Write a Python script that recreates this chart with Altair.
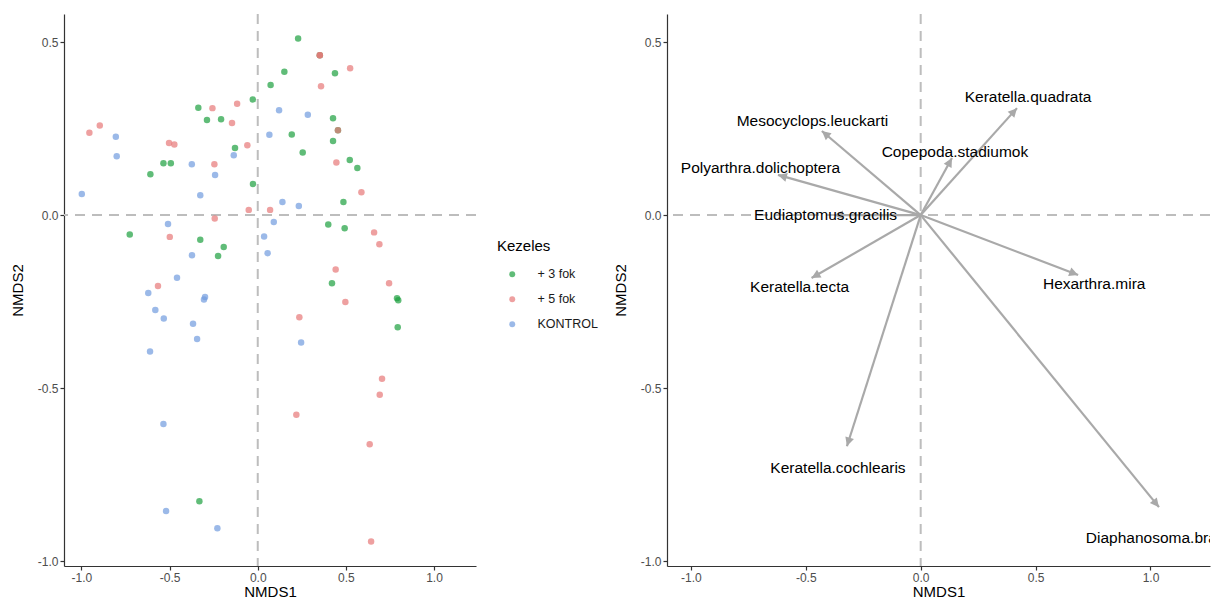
import altair as alt
import pandas as pd

# Treatment groups and their colours
groups = ["+ 3 fok", "+ 5 fok", "KONTROL"]
group_colors = ["#1C9F3E", "#E77777", "#709BDE"]

# Site scores (NMDS1, NMDS2) per treatment
green_x = [-0.337, -0.288, -0.208, -0.028, -0.129, -0.535, -0.493, -0.609, -0.027, 0.073,
           0.229, 0.151, 0.438, 0.427, 0.193, 0.427, 0.255, 0.522, 0.565, 0.486,
           -0.726, -0.326, -0.193, -0.225, 0.400, 0.493, 0.421, 0.790, 0.797, 0.794,
           -0.331, 0.455, 0.352]
green_y = [0.310, 0.275, 0.277, 0.334, 0.194, 0.150, 0.150, 0.118, 0.090, 0.376,
           0.510, 0.414, 0.410, 0.280, 0.233, 0.214, 0.181, 0.159, 0.136, 0.038,
           -0.056, -0.071, -0.092, -0.118, -0.027, -0.038, -0.197, -0.240, -0.246, -0.324,
           -0.827, 0.245, 0.462]

pink_x = [-0.257, -0.117, -0.146, -0.955, -0.896, -0.503, -0.473, -0.246, -0.059, -0.051,
          -0.244, 0.070, 0.352, 0.352, 0.524, 0.359, 0.446, 0.588, -0.499, -0.566,
          0.660, 0.690, 0.442, 0.745, 0.497, 0.236, 0.705, 0.692, 0.219, 0.635,
          0.643, 0.455]
pink_y = [0.309, 0.322, 0.266, 0.238, 0.259, 0.208, 0.204, 0.147, 0.202, 0.015,
          -0.010, 0.015, 0.462, 0.462, 0.424, 0.372, 0.152, 0.066, -0.063, -0.205,
          -0.050, -0.084, -0.157, -0.197, -0.251, -0.295, -0.473, -0.519, -0.577, -0.662,
          -0.943, 0.245]

blue_x = [-0.805, -0.800, -0.374, -0.242, -0.136, -0.998, -0.326, 0.066, 0.121, 0.284,
          0.140, 0.233, 0.091, -0.509, -0.373, -0.458, -0.621, -0.299, -0.305, -0.581,
          -0.533, -0.367, -0.344, -0.611, 0.036, 0.056, 0.246, -0.535, -0.520, -0.229]
blue_y = [0.226, 0.170, 0.147, 0.116, 0.173, 0.061, 0.057, 0.232, 0.303, 0.290,
          0.038, 0.026, -0.020, -0.026, -0.116, -0.181, -0.225, -0.237, -0.244, -0.274,
          -0.299, -0.314, -0.358, -0.394, -0.062, -0.110, -0.368, -0.604, -0.855, -0.905]

# Species vectors (arrow tips) and their label positions
species = ["Keratella.quadrata", "Mesocyclops.leuckarti", "Copepoda.stadiumok",
           "Polyarthra.dolichoptera", "Eudiaptomus.gracilis", "Keratella.tecta",
           "Hexarthra.mira", "Keratella.cochlearis", "Diaphanosoma.brachyurum"]
arrow_x = [0.419, -0.430, 0.136, -0.621, -0.377, -0.475, 0.685, -0.321, 1.037]
arrow_y = [0.309, 0.243, 0.165, 0.116, 0.000, -0.182, -0.173, -0.668, -0.844]
label_x = [0.467, -0.471, 0.149, -0.697, -0.414, -0.527, 0.755, -0.360, 1.133]
label_y = [0.341, 0.272, 0.182, 0.136, 0.000, -0.208, -0.199, -0.731, -0.934]

sites = pd.DataFrame({
    "NMDS1": green_x + pink_x + blue_x,
    "NMDS2": green_y + pink_y + blue_y,
    "Kezeles": [groups[0]] * len(green_x) + [groups[1]] * len(pink_x) + [groups[2]] * len(blue_x),
})
sites["draw_order"] = range(len(sites))

vectors = pd.DataFrame({
    "species": species,
    "NMDS1": arrow_x,
    "NMDS2": arrow_y,
    "lx": label_x,
    "ly": label_y,
})
zero = pd.DataFrame({"zero": [0.0]})

PANEL_H = 552
LEFT_W = 412
RIGHT_W = 543
Y_DOMAIN = [-1.014, 0.581]
LEFT_X_DOMAIN = [-1.099, 1.238]
RIGHT_X_DOMAIN = [-1.104, 1.259]

TICKS = [-1.0, -0.5, 0.0, 0.5, 1.0]
LABEL_EXPR = "datum.value < 0 ? '-' + format(-datum.value, '.1f') : format(datum.value, '.1f')"
GUIDE_GREY = "#BDBDBD"
ARROW_GREY = "#A9A9A9"
ARROW_HEAD = "M0,0L-0.5,1L0.5,1Z"


def xs(domain):
    return alt.Scale(domain=domain, nice=False, zero=False)


ys = alt.Scale(domain=Y_DOMAIN, nice=False, zero=False)
x_axis = alt.Axis(values=TICKS, labelExpr=LABEL_EXPR, title="NMDS1", titlePadding=1)
y_axis = alt.Axis(values=TICKS[:-1], labelExpr=LABEL_EXPR, title="NMDS2", titlePadding=12)


def guides(domain):
    vline = alt.Chart(zero).mark_rule(color=GUIDE_GREY, strokeWidth=2, strokeDash=[10, 7]).encode(
        x=alt.X("zero:Q", scale=xs(domain), axis=x_axis)
    )
    hline = alt.Chart(zero).mark_rule(color=GUIDE_GREY, strokeWidth=2, strokeDash=[10, 7]).encode(
        y=alt.Y("zero:Q", scale=ys, axis=y_axis)
    )
    return vline, hline


# Site scores coloured by treatment
lv, lh = guides(LEFT_X_DOMAIN)
points = alt.Chart(sites).mark_circle(size=42, opacity=0.7).encode(
    x=alt.X("NMDS1:Q", scale=xs(LEFT_X_DOMAIN), axis=x_axis),
    y=alt.Y("NMDS2:Q", scale=ys, axis=y_axis),
    color=alt.Color(
        "Kezeles:N",
        scale=alt.Scale(domain=groups, range=group_colors),
        legend=alt.Legend(
            orient="none", legendX=433, legendY=225, padding=0,
            title="Kezeles", titleFontSize=15, titleFontWeight="normal", titleColor="#000000",
            titlePadding=14, labelFontSize=12.5, labelColor="#1A1A1A",
            symbolType="circle", symbolSize=35, symbolOpacity=0.7, symbolStrokeWidth=0,
            symbolOffset=9, labelOffset=19, rowPadding=12,
        ),
    ),
    order=alt.Order("draw_order:Q"),
)
left = alt.layer(lv, lh, points).properties(width=LEFT_W, height=PANEL_H)

# Species vectors
rv, rh = guides(RIGHT_X_DOMAIN)
sx = RIGHT_W / (RIGHT_X_DOMAIN[1] - RIGHT_X_DOMAIN[0])
sy = PANEL_H / (Y_DOMAIN[1] - Y_DOMAIN[0])
vec_base = alt.Chart(vectors)
shafts = vec_base.mark_rule(color=ARROW_GREY, strokeWidth=2.2).transform_calculate(
    ox="0", oy="0"
).encode(
    x=alt.X("ox:Q", scale=xs(RIGHT_X_DOMAIN), axis=x_axis),
    y=alt.Y("oy:Q", scale=ys, axis=y_axis),
    x2="NMDS1:Q",
    y2="NMDS2:Q",
)
heads = vec_base.mark_point(shape=ARROW_HEAD, filled=True, size=320, color=ARROW_GREY, opacity=1).transform_calculate(
    head_angle=f"(atan2(datum.NMDS1 * {sx:.4f}, datum.NMDS2 * {sy:.4f}) * 180 / PI + 360) % 360"
).encode(
    x=alt.X("NMDS1:Q", scale=xs(RIGHT_X_DOMAIN), axis=x_axis),
    y=alt.Y("NMDS2:Q", scale=ys, axis=y_axis),
    angle=alt.Angle("head_angle:Q", scale=None),
)
labels = vec_base.mark_text(fontSize=15.5, color="#000000", clip=True).encode(
    x=alt.X("lx:Q", scale=xs(RIGHT_X_DOMAIN), axis=x_axis),
    y=alt.Y("ly:Q", scale=ys, axis=y_axis),
    text="species:N",
)
right = alt.layer(rv, rh, shafts, heads, labels).properties(width=RIGHT_W, height=PANEL_H)

chart = alt.hconcat(left, right, spacing=15).resolve_legend(color="independent").properties(
    padding={"left": 10, "top": 13, "right": 0, "bottom": 0}
).configure(
    font="Liberation Sans"
).configure_view(
    stroke=None
).configure_axis(
    grid=False,
    domainColor="#333333", domainWidth=1.2,
    tickColor="#333333", tickWidth=1.2, tickSize=4,
    labelColor="#4D4D4D", labelFontSize=12, labelPadding=2,
    titleColor="#000000", titleFontSize=15, titleFontWeight="normal",
)

chart.save("out.html", embed_options={"renderer": "svg", "actions": False})
